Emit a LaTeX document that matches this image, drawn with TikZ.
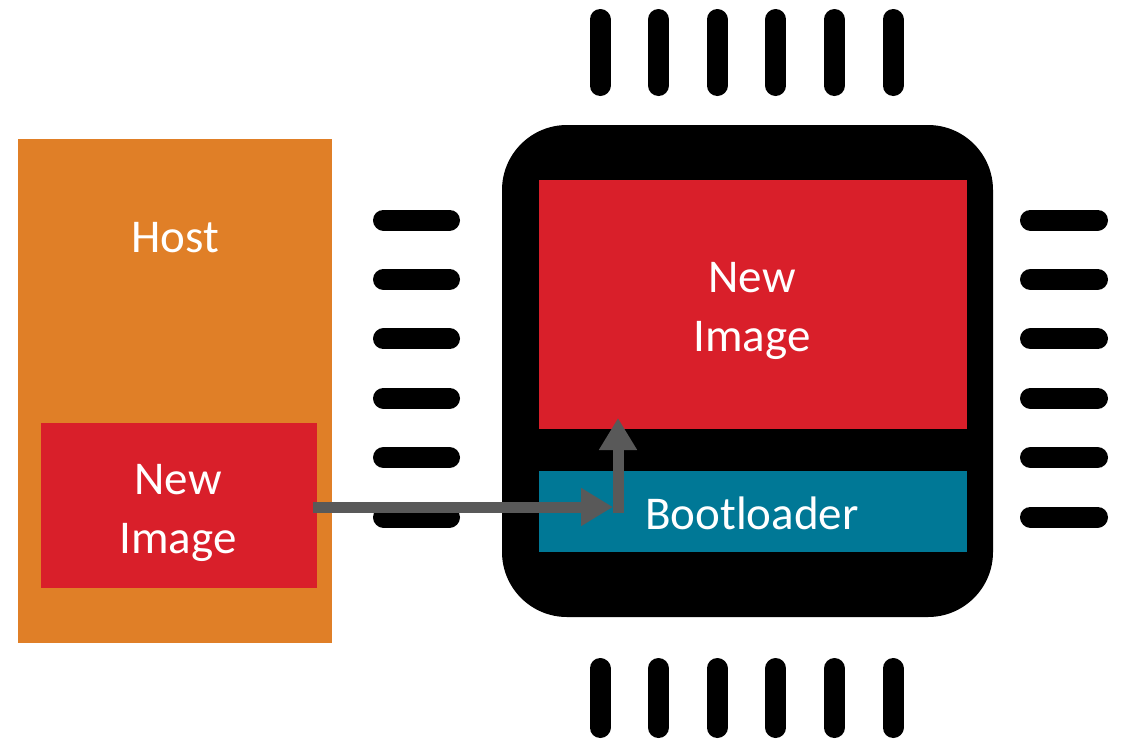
\documentclass[tikz,border=0pt]{standalone}
\usepackage{fontspec}
\setmainfont{Carlito}
\usetikzlibrary{arrows.meta}
\definecolor{hostorange}{RGB}{224,127,39}
\definecolor{imgred}{RGB}{217,31,42}
\definecolor{bootteal}{RGB}{0,120,150}
\definecolor{arrgray}{RGB}{89,89,89}
\tikzset{
  box/.style={draw=none, inner sep=0pt, outer sep=0pt, text=white, align=center,
    font=\fontsize{47}{58.5}\selectfont},
  pin/.style={line width=21pt, line cap=round, black},
  arr/.style={draw=arrgray, line width=11pt, -{Triangle[length=32pt,width=36pt]}},
}
\begin{document}
\begin{tikzpicture}[x=1pt,y=-1pt]
\useasboundingbox (0,0) rectangle (1125,745);
% host
\node[box, fill=hostorange, minimum width=314pt, minimum height=504pt] (host) at (175,391) {};
\node[box] (hostlabel) at (175,238) {Host};
\node[box, fill=imgred, minimum width=276pt, minimum height=165pt] (img1) at (179,505.5) {};
\node[box] (img1label) at (178,513) {New\\Image};
% chip pins
\foreach \i in {0,...,5}{
  \pgfmathsetmacro{\yy}{220+59.4*\i}
  \pgfmathsetmacro{\xx}{600+58.6*\i}
  \draw[pin] (383.5,\yy) -- (449.5,\yy);
  \draw[pin] (1030.5,\yy) -- (1097.5,\yy);
  \draw[pin] (\xx,19.5) -- (\xx,85.5);
  \draw[pin] (\xx,668.5) -- (\xx,727.5);
}
% chip
\node[box, fill=black, rounded corners=65pt, minimum width=491pt, minimum height=492pt] (chip) at (747.5,371) {};
\node[box, fill=imgred, minimum width=428pt, minimum height=249pt] (img2) at (753,304.5) {};
\node[box] (img2label) at (752,311) {New\\Image};
\node[box, fill=bootteal, minimum width=428pt, minimum height=81pt] (boot) at (753,511.5) {};
\node[box] (bootlabel) at (752,513) {Bootloader};
% arrows
\coordinate (bend) at (618,507);
\coordinate (tipH) at (613,507);
\coordinate (tipV) at (618,418);
\draw[arr] ([xshift=-4pt]img1.east |- bend) -- (tipH);
\draw[arr] ([yshift=-5.5pt]bend) -- (tipV);
\end{tikzpicture}
\end{document}
